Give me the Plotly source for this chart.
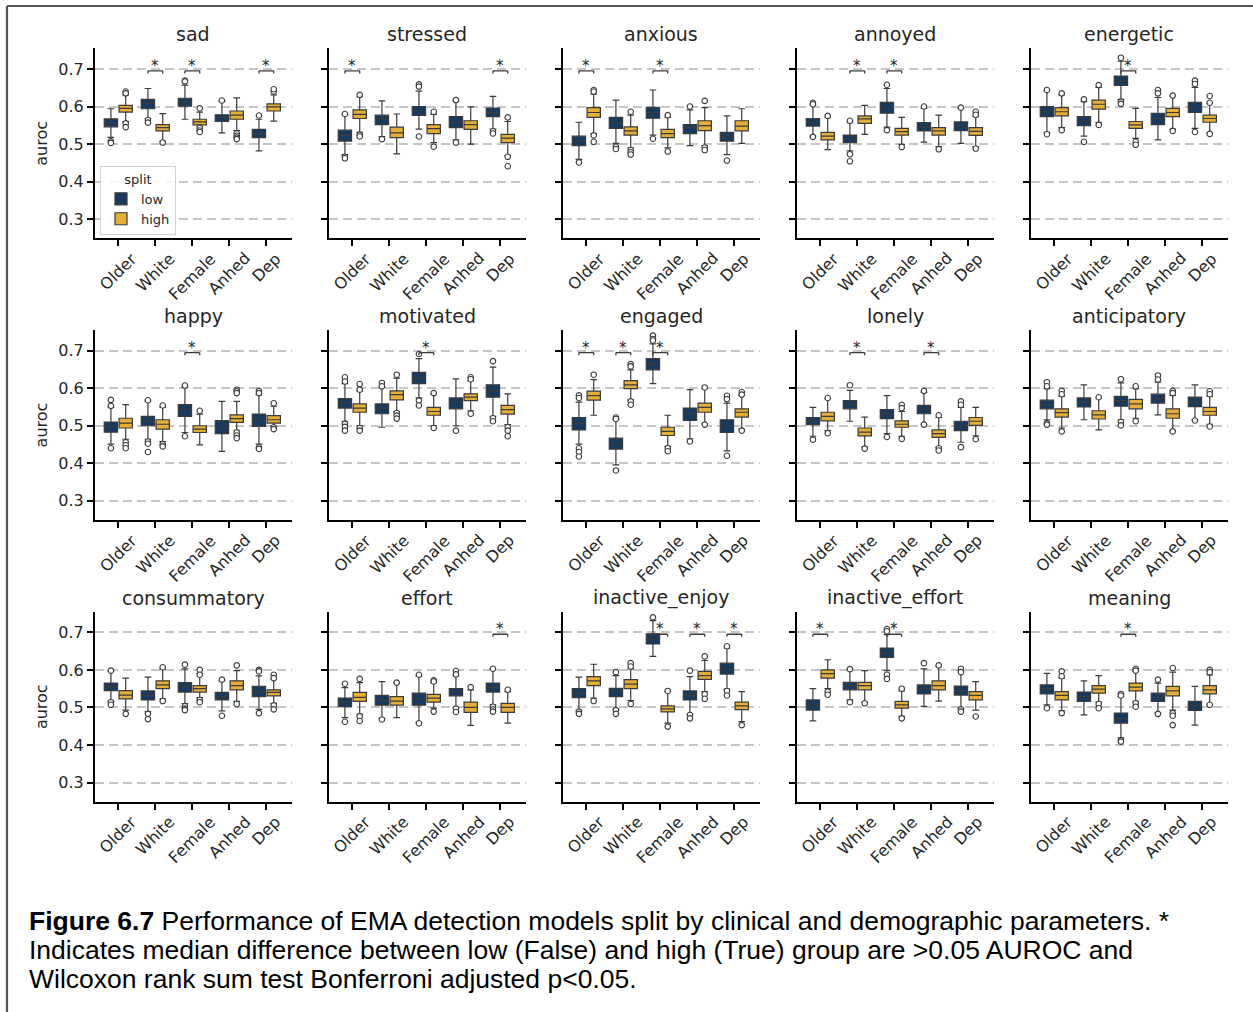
import plotly.graph_objects as go

# ---------------------------------------------------------------- data
EMOTIONS = ["sad", "stressed", "anxious", "annoyed", "energetic",
            "happy", "motivated", "engaged", "lonely", "anticipatory",
            "consummatory", "effort", "inactive_enjoy", "inactive_effort", "meaning"]
SPLITS = ["Older", "White", "Female", "Anhed", "Dep"]
GROUPS = ["low", "high"]
Y_TICKS = [0.3, 0.4, 0.5, 0.6, 0.7]

# box statistics of the "low" group, one row per emotion, one value per split
LOW_Q1 = [
    [0.546, 0.594, 0.601, 0.560, 0.517],  # sad
    [0.508, 0.552, 0.576, 0.544, 0.573],  # stressed
    [0.496, 0.542, 0.569, 0.528, 0.508],  # anxious
    [0.548, 0.504, 0.582, 0.535, 0.536],  # annoyed
    [0.573, 0.549, 0.656, 0.552, 0.584],  # energetic
    [0.483, 0.500, 0.525, 0.479, 0.498],  # happy
    [0.547, 0.532, 0.612, 0.545, 0.576],  # motivated
    [0.489, 0.438, 0.649, 0.514, 0.482],  # engaged
    [0.503, 0.545, 0.519, 0.532, 0.487],  # lonely
    [0.545, 0.550, 0.552, 0.560, 0.551],  # anticipatory
    [0.545, 0.520, 0.541, 0.520, 0.529],  # consummatory
    [0.502, 0.506, 0.506, 0.531, 0.541],  # effort
    [0.526, 0.529, 0.669, 0.520, 0.589],  # inactive_enjoy
    [0.493, 0.547, 0.633, 0.536, 0.533],  # inactive_effort
    [0.536, 0.516, 0.458, 0.516, 0.492],  # meaning
]
LOW_MED = [
    [0.555, 0.608, 0.613, 0.571, 0.528],
    [0.523, 0.567, 0.590, 0.558, 0.584],
    [0.508, 0.557, 0.584, 0.544, 0.521],
    [0.558, 0.515, 0.598, 0.546, 0.548],
    [0.586, 0.562, 0.668, 0.568, 0.598],
    [0.498, 0.513, 0.544, 0.496, 0.516],
    [0.560, 0.547, 0.627, 0.563, 0.593],
    [0.506, 0.453, 0.665, 0.532, 0.500],
    [0.513, 0.556, 0.531, 0.544, 0.500],
    [0.557, 0.563, 0.567, 0.572, 0.563],
    [0.555, 0.533, 0.556, 0.529, 0.542],
    [0.514, 0.518, 0.523, 0.541, 0.553],
    [0.538, 0.542, 0.683, 0.532, 0.603],
    [0.507, 0.558, 0.646, 0.550, 0.545],
    [0.550, 0.529, 0.471, 0.526, 0.505],
]
LOW_Q3 = [
    [0.567, 0.619, 0.622, 0.578, 0.539],
    [0.537, 0.577, 0.600, 0.573, 0.596],
    [0.521, 0.571, 0.598, 0.552, 0.531],
    [0.568, 0.524, 0.611, 0.557, 0.559],
    [0.600, 0.573, 0.681, 0.582, 0.611],
    [0.510, 0.525, 0.556, 0.514, 0.531],
    [0.572, 0.558, 0.642, 0.574, 0.609],
    [0.522, 0.467, 0.679, 0.547, 0.516],
    [0.522, 0.567, 0.543, 0.554, 0.512],
    [0.568, 0.574, 0.578, 0.584, 0.576],
    [0.565, 0.544, 0.566, 0.540, 0.556],
    [0.525, 0.532, 0.538, 0.550, 0.565],
    [0.550, 0.551, 0.696, 0.544, 0.618],
    [0.520, 0.567, 0.658, 0.560, 0.557],
    [0.560, 0.541, 0.485, 0.538, 0.516],
]
LOW_LO = [
    [0.518, 0.568, 0.566, 0.530, 0.482],
    [0.472, 0.520, 0.540, 0.511, 0.540],
    [0.459, 0.502, 0.524, 0.496, 0.472],
    [0.521, 0.482, 0.545, 0.505, 0.502],
    [0.531, 0.521, 0.619, 0.511, 0.542],
    [0.451, 0.464, 0.482, 0.432, 0.451],
    [0.512, 0.496, 0.574, 0.500, 0.525],
    [0.451, 0.396, 0.612, 0.465, 0.433],
    [0.472, 0.512, 0.479, 0.504, 0.456],
    [0.516, 0.516, 0.516, 0.529, 0.516],
    [0.517, 0.489, 0.510, 0.491, 0.495],
    [0.473, 0.471, 0.460, 0.500, 0.507],
    [0.492, 0.495, 0.636, 0.482, 0.549],
    [0.464, 0.520, 0.598, 0.503, 0.498],
    [0.507, 0.480, 0.419, 0.486, 0.453],
]
LOW_HI = [
    [0.594, 0.648, 0.657, 0.613, 0.566],
    [0.577, 0.615, 0.641, 0.615, 0.627],
    [0.558, 0.617, 0.644, 0.591, 0.575],
    [0.604, 0.557, 0.648, 0.595, 0.595],
    [0.642, 0.613, 0.721, 0.624, 0.651],
    [0.549, 0.565, 0.602, 0.565, 0.583],
    [0.612, 0.602, 0.679, 0.625, 0.656],
    [0.563, 0.516, 0.718, 0.596, 0.560],
    [0.549, 0.594, 0.580, 0.589, 0.549],
    [0.599, 0.609, 0.614, 0.616, 0.609],
    [0.596, 0.581, 0.603, 0.571, 0.584],
    [0.553, 0.569, 0.583, 0.584, 0.602],
    [0.581, 0.585, 0.731, 0.582, 0.658],
    [0.550, 0.600, 0.694, 0.603, 0.598],
    [0.591, 0.571, 0.529, 0.565, 0.556],
]
LOW_OUT = [
    [[0.507, 0.503], [0.564, 0.557], [0.669, 0.667], [0.616], [0.576]],
    [[0.580, 0.466, 0.462], [0.513], [0.659, 0.653, 0.520], [0.617, 0.504], [0.534, 0.528]],
    [[0.451], [0.493, 0.487], [0.514], [0.600], [0.456]],
    [[0.610, 0.606, 0.519], [0.562, 0.473, 0.454], [0.658, 0.537], [0.600], [0.597]],
    [[0.644, 0.526], [0.619, 0.506], [0.730, 0.613, 0.607], [0.644, 0.635], [0.669, 0.660, 0.532]],
    [[0.569, 0.553, 0.440], [0.568, 0.458, 0.452, 0.430], [0.607, 0.472], [], [0.593, 0.587, 0.442, 0.438]],
    [[0.629, 0.618, 0.505, 0.497, 0.487], [0.614, 0.605], [0.691, 0.567, 0.554], [0.487], [0.672, 0.520, 0.512]],
    [[0.581, 0.574, 0.440, 0.430, 0.418], [0.522, 0.518, 0.381], [0.740, 0.731, 0.727], [0.458], [0.580, 0.571, 0.420]],
    [[0.463], [0.608], [0.470], [0.593, 0.503], [0.565, 0.556, 0.443]],
    [[0.616, 0.605, 0.507, 0.503], [], [0.624, 0.510, 0.501], [0.634, 0.623], [0.514]],
    [[0.598, 0.514, 0.507], [0.483, 0.469], [0.614, 0.503, 0.497, 0.493], [0.574, 0.478], [0.600, 0.596, 0.485]],
    [[0.563, 0.462], [0.468], [0.587, 0.458], [0.597, 0.588, 0.497, 0.488], [0.603, 0.502, 0.495, 0.489]],
    [[0.489, 0.483], [0.594, 0.493, 0.483], [0.740], [0.598, 0.480, 0.471], [0.663, 0.544, 0.532]],
    [[], [0.602, 0.514], [0.709, 0.703, 0.587, 0.576], [0.618], [0.603, 0.594, 0.495, 0.489]],
    [[0.498], [], [0.536, 0.532, 0.413, 0.409], [0.574, 0.483], []],
]

# box statistics of the "high" group
HIGH_Q1 = [
    [0.585, 0.535, 0.551, 0.566, 0.588],
    [0.568, 0.517, 0.528, 0.539, 0.504],
    [0.571, 0.524, 0.517, 0.536, 0.535],
    [0.511, 0.555, 0.524, 0.524, 0.523],
    [0.575, 0.593, 0.542, 0.573, 0.558],
    [0.494, 0.491, 0.482, 0.509, 0.507],
    [0.536, 0.569, 0.528, 0.567, 0.531],
    [0.568, 0.599, 0.474, 0.536, 0.523],
    [0.513, 0.473, 0.496, 0.469, 0.501],
    [0.523, 0.518, 0.545, 0.520, 0.528],
    [0.523, 0.550, 0.541, 0.547, 0.531],
    [0.516, 0.506, 0.514, 0.487, 0.487],
    [0.558, 0.550, 0.488, 0.575, 0.494],
    [0.578, 0.547, 0.498, 0.547, 0.520],
    [0.520, 0.538, 0.544, 0.531, 0.536],
]
HIGH_MED = [
    [0.595, 0.544, 0.559, 0.577, 0.599],
    [0.579, 0.530, 0.541, 0.552, 0.516],
    [0.584, 0.535, 0.528, 0.549, 0.548],
    [0.521, 0.567, 0.533, 0.535, 0.534],
    [0.586, 0.606, 0.551, 0.584, 0.568],
    [0.507, 0.504, 0.491, 0.519, 0.516],
    [0.547, 0.583, 0.538, 0.576, 0.543],
    [0.580, 0.609, 0.485, 0.549, 0.536],
    [0.525, 0.483, 0.504, 0.479, 0.512],
    [0.535, 0.529, 0.558, 0.532, 0.538],
    [0.533, 0.560, 0.550, 0.558, 0.540],
    [0.527, 0.517, 0.525, 0.500, 0.500],
    [0.571, 0.562, 0.496, 0.585, 0.504],
    [0.590, 0.558, 0.507, 0.558, 0.532],
    [0.532, 0.549, 0.554, 0.544, 0.547],
]
HIGH_Q3 = [
    [0.603, 0.552, 0.566, 0.588, 0.607],
    [0.591, 0.545, 0.552, 0.562, 0.526],
    [0.597, 0.546, 0.539, 0.562, 0.562],
    [0.531, 0.575, 0.542, 0.544, 0.544],
    [0.597, 0.617, 0.560, 0.595, 0.577],
    [0.520, 0.516, 0.500, 0.529, 0.527],
    [0.558, 0.593, 0.549, 0.585, 0.554],
    [0.592, 0.620, 0.496, 0.560, 0.545],
    [0.536, 0.494, 0.513, 0.489, 0.522],
    [0.545, 0.540, 0.570, 0.545, 0.549],
    [0.545, 0.571, 0.558, 0.571, 0.547],
    [0.540, 0.529, 0.535, 0.514, 0.511],
    [0.582, 0.574, 0.504, 0.596, 0.514],
    [0.600, 0.567, 0.516, 0.571, 0.542],
    [0.542, 0.558, 0.565, 0.556, 0.558],
]
HIGH_LO = [
    [0.560, 0.508, 0.546, 0.536, 0.561],
    [0.531, 0.474, 0.504, 0.500, 0.469],
    [0.528, 0.490, 0.490, 0.496, 0.502],
    [0.485, 0.526, 0.499, 0.493, 0.493],
    [0.544, 0.558, 0.515, 0.540, 0.530],
    [0.464, 0.458, 0.449, 0.488, 0.500],
    [0.500, 0.538, 0.500, 0.540, 0.503],
    [0.528, 0.569, 0.445, 0.505, 0.491],
    [0.487, 0.443, 0.472, 0.443, 0.473],
    [0.494, 0.489, 0.520, 0.487, 0.504],
    [0.493, 0.523, 0.526, 0.516, 0.511],
    [0.482, 0.473, 0.498, 0.452, 0.458],
    [0.525, 0.518, 0.458, 0.542, 0.462],
    [0.550, 0.514, 0.476, 0.517, 0.493],
    [0.491, 0.514, 0.516, 0.493, 0.508],
]
HIGH_HI = [
    [0.631, 0.581, 0.585, 0.623, 0.631],
    [0.626, 0.580, 0.579, 0.599, 0.560],
    [0.633, 0.577, 0.571, 0.597, 0.594],
    [0.570, 0.603, 0.571, 0.577, 0.573],
    [0.631, 0.651, 0.595, 0.628, 0.608],
    [0.556, 0.549, 0.531, 0.565, 0.552],
    [0.592, 0.627, 0.584, 0.620, 0.585],
    [0.623, 0.649, 0.528, 0.599, 0.581],
    [0.572, 0.523, 0.538, 0.522, 0.549],
    [0.578, 0.574, 0.599, 0.581, 0.578],
    [0.578, 0.603, 0.591, 0.598, 0.576],
    [0.566, 0.565, 0.566, 0.547, 0.542],
    [0.615, 0.603, 0.542, 0.625, 0.542],
    [0.627, 0.598, 0.544, 0.609, 0.569],
    [0.578, 0.585, 0.596, 0.594, 0.587],
]
HIGH_OUT = [
    [[0.640, 0.635, 0.555, 0.545], [0.504], [0.595, 0.543, 0.536, 0.532], [0.528, 0.522, 0.517, 0.513], [0.640, 0.646]],
    [[0.631, 0.525, 0.520], [], [0.586, 0.493], [], [0.571, 0.466, 0.441]],
    [[0.644, 0.640, 0.523, 0.506], [0.586, 0.484, 0.478, 0.472], [0.577, 0.480], [0.615, 0.491, 0.484], []],
    [[0.575], [], [0.492], [0.486], [0.586, 0.578, 0.488]],
    [[0.635, 0.537], [0.657, 0.551], [0.506, 0.498], [0.629, 0.535], [0.628, 0.610, 0.527]],
    [[0.456, 0.448, 0.440], [0.554, 0.451, 0.445], [0.540], [0.596, 0.592, 0.587, 0.482, 0.474, 0.467], [0.560, 0.496, 0.491]],
    [[0.611, 0.596, 0.494, 0.487], [0.636, 0.534, 0.527, 0.519], [0.587, 0.494], [0.629, 0.624, 0.532], [0.496, 0.487, 0.472]],
    [[0.636], [0.664, 0.658, 0.565, 0.556], [0.440, 0.432], [0.602, 0.503], [0.590, 0.583, 0.487]],
    [[0.574, 0.480], [0.439], [0.556, 0.547, 0.465], [0.528, 0.440, 0.434], [0.464]],
    [[0.593, 0.584, 0.485], [0.576], [0.605, 0.512], [0.593, 0.587, 0.485], [0.592, 0.584, 0.498]],
    [[0.483], [0.607, 0.517], [0.600, 0.587, 0.520, 0.514], [0.612, 0.509], [0.587, 0.578, 0.505, 0.495]],
    [[0.576, 0.476, 0.464], [0.566], [0.572, 0.569, 0.489], [0.554], [0.547]],
    [[0.517], [0.618, 0.609, 0.509], [0.544, 0.449], [0.636, 0.535, 0.523], [0.453]],
    [[0.542, 0.534], [0.511], [0.550, 0.471], [0.612], [0.476]],
    [[0.596, 0.583, 0.485], [0.509, 0.498], [0.603, 0.598, 0.511, 0.502], [0.605, 0.485, 0.478, 0.453], [0.600, 0.594, 0.507]],
]

# splits flagged as significantly different, per emotion
SIGNIFICANT = [
    ["White", "Female", "Dep"], ["Older", "Dep"], ["Older", "Female"], ["White", "Female"], ["Female"],
    ["Female"], ["Female"], ["Older", "White", "Female"], ["White", "Anhed"], [],
    [], ["Dep"], ["Female", "Anhed", "Dep"], ["Older", "Female"], ["Female"],
]
SIG_LEVEL = 0.695

CAPTION_LINES = [
    "<b>Figure 6.7</b> Performance of EMA detection models split by clinical and demographic parameters. *",
    "Indicates median difference between low (False) and high (True) group are &gt;0.05 AUROC and",
    "Wilcoxon rank sum test Bonferroni adjusted p&lt;0.05.",
]

# ---------------------------------------------------------------- style
W, H = 1253, 1012
COLORS = {"low": "#173a5e", "high": "#e4ae38"}
EDGE = "#3b3b3b"
TEXT = "#262626"
FONT = "DejaVu Sans"

COL_LEFT = [95, 329, 563, 797, 1031]      # px, left spine of each column
PANEL_W = 196.5
ROW_TOP = [48.3, 330.0, 611.7]            # px, top of each row
PANEL_H = 190.0
CAPTION_MID = [921, 950, 979]             # px, vertical centre of each caption line

STATS = {
    "low": (LOW_Q1, LOW_MED, LOW_Q3, LOW_LO, LOW_HI, LOW_OUT),
    "high": (HIGH_Q1, HIGH_MED, HIGH_Q3, HIGH_LO, HIGH_HI, HIGH_OUT),
}

fig = go.Figure()
annotations = []
shapes = []
layout_axes = {}

for k, emo in enumerate(EMOTIONS):
    r, c = divmod(k, 5)
    suffix = "" if k == 0 else str(k + 1)
    xa, ya = "x" + suffix, "y" + suffix

    for grp in GROUPS:
        q1, med, q3, lo, hi, out = STATS[grp]
        fig.add_trace(go.Box(
            x=SPLITS, q1=q1[k], median=med[k], q3=q3[k],
            lowerfence=lo[k], upperfence=hi[k],
            name=grp, legendgroup=grp, showlegend=(k == 0),
            offsetgroup=grp, xaxis=xa, yaxis=ya,
            fillcolor=COLORS[grp], line=dict(color=EDGE, width=1.2),
            whiskerwidth=0.5, boxpoints=False, hoverinfo="skip",
        ))
        xs, ys = [], []
        for cat, pts in zip(SPLITS, out[k]):
            xs += [cat] * len(pts)
            ys += pts
        fig.add_trace(go.Scatter(
            x=xs, y=ys, mode="markers", offsetgroup=grp,
            xaxis=xa, yaxis=ya, showlegend=False, hoverinfo="skip",
            marker=dict(symbol="circle", size=5.5, color="white",
                        line=dict(color=EDGE, width=1.1)),
        ))

    # significance brackets
    for cat in SIGNIFICANT[k]:
        bl = dict(type="line", xref=xa, yref=ya, line=dict(color=EDGE, width=1.3), layer="above")
        shapes.append(dict(bl, x0=cat, x1=cat, x0shift=-0.2, x1shift=0.2, y0=SIG_LEVEL, y1=SIG_LEVEL))
        shapes.append(dict(bl, x0=cat, x1=cat, x0shift=-0.2, x1shift=-0.2, y0=SIG_LEVEL - 0.007, y1=SIG_LEVEL))
        shapes.append(dict(bl, x0=cat, x1=cat, x0shift=0.2, x1shift=0.2, y0=SIG_LEVEL - 0.007, y1=SIG_LEVEL))
        annotations.append(dict(x=cat, y=SIG_LEVEL, xref=xa, yref=ya, text="*", showarrow=False,
                                xanchor="center", yanchor="bottom", yshift=-6,
                                font=dict(family=FONT, size=15, color=TEXT)))

    # panel title
    annotations.append(dict(x=0.5, y=1, xref=xa + " domain", yref=ya + " domain", text=emo,
                            showarrow=False, xanchor="center", yanchor="bottom", yshift=1,
                            font=dict(family=FONT, size=19, color=TEXT)))
    # rotated category labels
    for cat in SPLITS:
        annotations.append(dict(x=cat, y=0, xref=xa, yref=ya + " domain", text=cat,
                                showarrow=False, textangle=-45, xanchor="center", yanchor="top",
                                yshift=-8, font=dict(family=FONT, size=16, color=TEXT)))

    x0 = COL_LEFT[c] / W
    x1 = (COL_LEFT[c] + PANEL_W) / W
    y1 = 1 - ROW_TOP[r] / H
    y0 = 1 - (ROW_TOP[r] + PANEL_H) / H
    layout_axes["xaxis" + suffix] = dict(
        domain=[x0, x1], anchor=ya, type="category",
        categoryorder="array", categoryarray=SPLITS, range=[-0.63, 4.68],
        showline=True, linecolor="black", linewidth=2.2,
        ticks="outside", ticklen=6, tickwidth=2, tickcolor="black",
        showticklabels=False, showgrid=False, zeroline=False,
    )
    layout_axes["yaxis" + suffix] = dict(
        domain=[y0, y1], anchor=xa, range=[0.249, 0.755],
        tickvals=Y_TICKS, ticktext=[f"{v:.1f}" for v in Y_TICKS],
        showticklabels=(c == 0), tickfont=dict(family=FONT, size=16, color=TEXT),
        showline=True, linecolor="black", linewidth=2.2,
        ticks="outside", ticklen=6, tickwidth=2, tickcolor="black",
        showgrid=True, gridcolor="#c6c6c6", gridwidth=2, griddash="9px,5px",
        zeroline=False,
        title=dict(text="auroc" if c == 0 else "", standoff=7,
                   font=dict(family=FONT, size=16, color=TEXT)),
    )

# caption below the panels
for line, mid in zip(CAPTION_LINES, CAPTION_MID):
    annotations.append(dict(x=27 / W, y=1 - mid / H, xref="paper", yref="paper", text=line,
                            showarrow=False, xanchor="left", yanchor="middle", align="left",
                            font=dict(family="Liberation Sans", size=26.5, color="black")))

# page frame
shapes.append(dict(type="line", xref="paper", yref="paper", x0=7 / W, x1=1.02, y0=1 - 6 / H, y1=1 - 6 / H,
                   line=dict(color="#555555", width=2.2)))
shapes.append(dict(type="line", xref="paper", yref="paper", x0=7 / W, x1=7 / W, y0=1 - 6 / H, y1=-0.02,
                   line=dict(color="#555555", width=2.2)))

fig.update_layout(
    width=W, height=H, margin=dict(l=0, r=0, t=0, b=0),
    paper_bgcolor="white", plot_bgcolor="white",
    boxmode="group", boxgap=0.2, boxgroupgap=0.1,
    scattermode="group", scattergap=0.2,
    font=dict(family=FONT, color=TEXT),
    legend=dict(x=100 / W, y=1 - 166 / H, xanchor="left", yanchor="top",
                title=dict(text="split", side="top center", font=dict(size=13, color=TEXT)),
                font=dict(size=13, color=TEXT), bgcolor="rgba(255,255,255,0.85)",
                bordercolor="#d0d0d0", borderwidth=1, tracegroupgap=0, itemwidth=30),
    annotations=annotations, shapes=shapes,
    **layout_axes,
)

fig.write_html("out.html")
